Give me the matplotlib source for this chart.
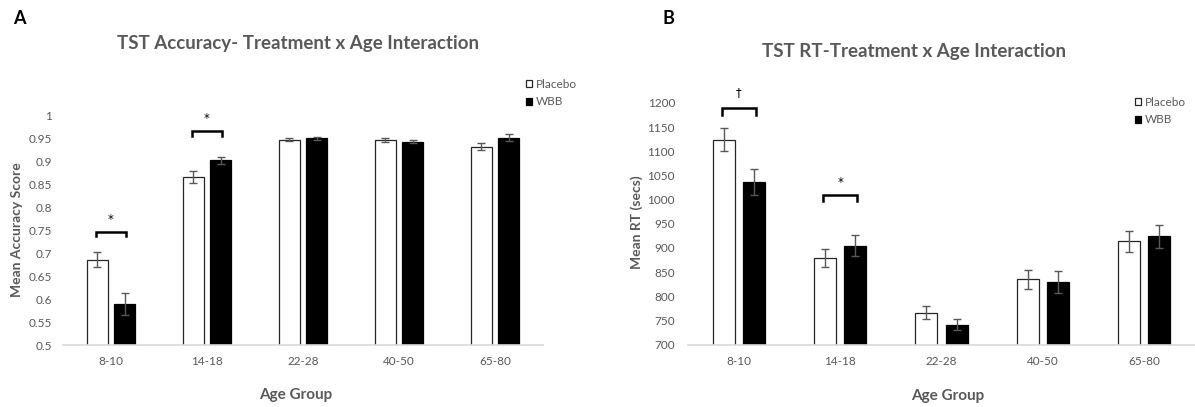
import numpy as np
import matplotlib
matplotlib.use("Agg")
import matplotlib.pyplot as plt

plt.rcParams['font.family'] = ['Lato', 'DejaVu Sans']

age_groups = ['8-10', '14-18', '22-28', '40-50', '65-80']

acc_placebo = [0.686, 0.866, 0.948, 0.948, 0.933]
acc_wbb = [0.590, 0.903, 0.951, 0.944, 0.953]
acc_placebo_err = [0.016, 0.013, 0.003, 0.004, 0.008]
acc_wbb_err = [0.024, 0.008, 0.003, 0.004, 0.007]

rt_placebo = [1124, 879, 766, 835, 914]
rt_wbb = [1036, 905, 741, 829, 924]
rt_placebo_err = [24, 19, 13, 20, 22]
rt_wbb_err = [27, 22, 11, 23, 24]

# significance markers: (group index, bracket level, leg bottom, symbol level, symbol)
acc_sig = [(0, 0.747, 0.737, 0.773, '*'), (1, 0.968, 0.957, 0.995, '*')]
rt_sig = [(0, 1190, 1176, 1221, '\u2020'), (1, 1009, 997, 1036, '*')]

GRAY = '#595959'
FW, FH = 1195, 407


def px(x, y):
    return x / FW, 1 - y / FH


def draw_panel(ax, placebo, wbb, p_err, w_err, ylim, step, yfmt, sig, width, gap, ypad):
    x = np.arange(len(age_groups))
    off = (width + gap) / 2
    ax.bar(x - off, placebo, width, color='white', edgecolor='#262626', linewidth=0.9,
           label='Placebo', zorder=2)
    ax.bar(x + off, wbb, width, color='black', edgecolor='black', linewidth=0.9,
           label='WBB', zorder=2)
    ax.errorbar(x - off, placebo, yerr=p_err, fmt='none', ecolor=GRAY,
                elinewidth=1, capsize=2.8, capthick=1, zorder=3)
    ax.errorbar(x + off, wbb, yerr=w_err, fmt='none', ecolor=GRAY,
                elinewidth=1, capsize=2.8, capthick=1, zorder=3)

    ax.set_xlim(-0.5, len(age_groups) - 0.5)
    ax.set_ylim(*ylim)
    ticks = np.arange(ylim[0], ylim[1] + step / 2, step)
    ax.set_yticks(ticks)
    ax.set_yticklabels([yfmt(t) for t in ticks])
    ax.set_xticks(x)
    ax.set_xticklabels(age_groups)
    ax.tick_params(length=0, labelsize=8.5, labelcolor=GRAY)
    ax.tick_params(axis='x', pad=8)
    ax.tick_params(axis='y', pad=ypad)
    for s in ['top', 'right', 'left']:
        ax.spines[s].set_visible(False)
    ax.spines['bottom'].set_color('#d9d9d9')
    ax.spines['bottom'].set_linewidth(1.2)

    for i, lvl, low, slvl, sym in sig:
        x0, x1 = i - off - 0.02, i + off + 0.02
        ax.plot([x0, x0, x1, x1], [low, lvl, lvl, low], color='black',
                lw=1.8, solid_joinstyle='miter', clip_on=False, zorder=4)
        ax.text(i, slvl, sym, ha='center', va='center', fontsize=8.5,
                family='DejaVu Sans', color='black', clip_on=False)


fig = plt.figure(figsize=(FW / 100, FH / 100), dpi=100)
axA = fig.add_axes([63 / FW, 62 / FH, 480 / FW, 229 / FH])
axB = fig.add_axes([688 / FW, 62.4 / FH, 507 / FW, 241.6 / FH])

draw_panel(axA, acc_placebo, acc_wbb, acc_placebo_err, acc_wbb_err, (0.5, 1.0), 0.05,
           lambda t: ('%.2f' % t).rstrip('0').rstrip('.'), acc_sig, 0.22, 0.062, 8)
draw_panel(axB, rt_placebo, rt_wbb, rt_placebo_err, rt_wbb_err, (700, 1200), 50,
           lambda t: '%d' % t, rt_sig, 0.217, 0.079, 9.4)

# titles, axis titles and panel letters placed as in the source figure
fig.text(*px(298, 44), 'TST Accuracy- Treatment x Age Interaction', ha='center', va='center',
         fontsize=13.5, fontweight='bold', color=GRAY)
fig.text(*px(914, 52), 'TST RT-Treatment x Age Interaction', ha='center', va='center',
         fontsize=13.5, fontweight='bold', color=GRAY)
fig.text(*px(17, 230), 'Mean Accuracy Score', rotation=90, ha='center', va='center',
         fontsize=10, fontweight='bold', color=GRAY)
fig.text(*px(637, 222), 'Mean RT (secs)', rotation=90, ha='center', va='center',
         fontsize=10, fontweight='bold', color=GRAY)
fig.text(*px(296, 395), 'Age Group', ha='center', va='center',
         fontsize=11, fontweight='bold', color=GRAY)
fig.text(*px(948, 396), 'Age Group', ha='center', va='center',
         fontsize=11, fontweight='bold', color=GRAY)
fig.text(*px(19, 18), 'A', ha='center', va='center', fontsize=13, fontweight='bold')
fig.text(*px(668, 19), 'B', ha='center', va='center', fontsize=13, fontweight='bold')

for ax, corner in [(axA, (526, 79)), (axB, (1135, 97))]:
    h, l = ax.get_legend_handles_labels()
    fig.legend(h, l, loc='upper left', bbox_to_anchor=px(*corner), frameon=False,
               fontsize=8.5, labelcolor=GRAY, handlelength=0.55, handleheight=0.55,
               handletextpad=0.3, borderaxespad=0, borderpad=0, labelspacing=0.55)

fig.savefig('out.png', dpi=100)
